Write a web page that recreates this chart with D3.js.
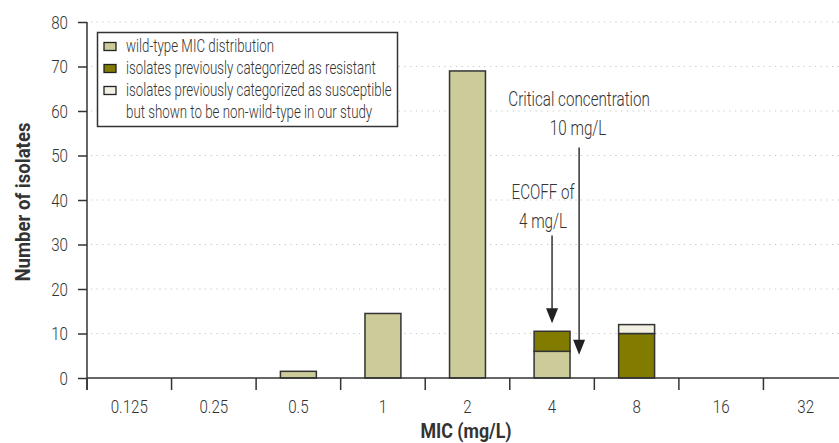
<!DOCTYPE html>
<html>
<head>
<meta charset="utf-8">
<script src="https://cdn.jsdelivr.net/npm/d3@7"></script>
<style>
  body { margin: 0; background: #fff; }
  svg text { font-family: Roboto, "Liberation Sans", sans-serif; fill: #333; }
</style>
</head>
<body>
<div id="chart"></div>
<script>
// MIC distribution data
const micLabels = ["0.125", "0.25", "0.5", "1", "2", "4", "8", "16", "32"];
const wildType = [0, 0, 1.5, 14.5, 69, 6, 0, 0, 0];
const resistant = [0, 0, 0, 0, 0, 4.5, 10, 0, 0];
const susceptibleNonWT = [0, 0, 0, 0, 0, 0, 2, 0, 0];
const yTicks = [0, 10, 20, 30, 40, 50, 60, 70, 80];

const seriesKeys = ["wt", "res", "sus"];
const seriesColors = { wt: "#cccb9a", res: "#817b00", sus: "#f1f0e2" };
const legendLabels = [
  ["wild-type MIC distribution"],
  ["isolates previously categorized as resistant"],
  ["isolates previously categorized as susceptible", "but shown to be non-wild-type in our study"]
];

const width = 839, height = 443;
const margin = { top: 22, right: -9, bottom: 65, left: 87 };
const squeeze = 0.76; // condensed look for words
const squeezeNum = 0.84; // and for numbers

const svg = d3.select("#chart").append("svg")
  .attr("width", width)
  .attr("height", height);

// text helper, squeezed horizontally to look like a condensed face
function label(parent, tx, ty, str, size, opts) {
  opts = opts || {};
  return parent.append("text")
    .attr("transform", `translate(${tx},${ty})${opts.rotate ? " rotate(" + opts.rotate + ")" : ""} scale(${opts.sx || squeeze},1)`)
    .attr("text-anchor", opts.anchor || "middle")
    .style("font-size", size + "px")
    .style("font-weight", opts.weight || 300)
    .text(str);
}

const x = d3.scaleBand()
  .domain(micLabels)
  .range([margin.left, width - margin.right])
  .paddingInner(0.575)
  .paddingOuter(0.2875);

const y = d3.scaleLinear()
  .domain([0, 80])
  .range([height - margin.bottom, margin.top]);

// gridlines
svg.append("g")
  .selectAll("line")
  .data(yTicks.filter(d => d > 0))
  .enter()
  .append("line")
  .attr("x1", margin.left + 4)
  .attr("x2", width)
  .attr("y1", d => y(d))
  .attr("y2", d => y(d))
  .style("stroke", "#c4c4c4")
  .style("stroke-width", 1)
  .style("stroke-dasharray", "1.2,4.5");

// stacked bars
const table = micLabels.map((m, i) => ({ mic: m, wt: wildType[i], res: resistant[i], sus: susceptibleNonWT[i] }));
const stacked = d3.stack().keys(seriesKeys)(table);

svg.append("g")
  .selectAll("g")
  .data(stacked)
  .enter()
  .append("g")
  .style("fill", d => seriesColors[d.key])
  .selectAll("rect")
  .data(d => d.filter(p => p[1] - p[0] > 0))
  .enter()
  .append("rect")
  .attr("x", d => x(d.data.mic))
  .attr("width", x.bandwidth())
  .attr("y", d => y(d[1]))
  .attr("height", d => y(d[0]) - y(d[1]))
  .style("stroke", "#333")
  .style("stroke-width", 1.5);

// y axis (labels drawn separately so they can be condensed)
const yAxis = svg.append("g")
  .attr("transform", `translate(${margin.left},0)`)
  .call(d3.axisLeft(y).tickValues(yTicks).tickSize(9).tickFormat(""));
yAxis.select(".domain").attr("d", `M0,${y(80)}V${y(0) + 12}`);
yAxis.selectAll("line, path").style("stroke", "#333").style("stroke-width", 1.5);
yTicks.forEach(t => label(svg, margin.left - 19, y(t) + 6.5, String(t), 18, { anchor: "end", sx: squeezeNum }));

// x axis: line + ticks between categories
const xg = svg.append("g");
xg.append("line")
  .attr("x1", margin.left)
  .attr("x2", width)
  .attr("y1", y(0))
  .attr("y2", y(0))
  .style("stroke", "#333")
  .style("stroke-width", 1.5);
xg.selectAll(".xtick")
  .data(micLabels)
  .enter()
  .append("line")
  .attr("class", "xtick")
  .attr("x1", d => x(d) - x.step() * x.paddingOuter())
  .attr("x2", d => x(d) - x.step() * x.paddingOuter())
  .attr("y1", y(0))
  .attr("y2", y(0) + 12)
  .style("stroke", "#333")
  .style("stroke-width", 1.5);
micLabels.forEach(m => label(xg, x(m) + x.bandwidth() / 2, y(0) + 35, m, 18, { sx: squeezeNum }));

// axis titles
label(svg, 466, 438, "MIC (mg/L)", 20, { weight: "bold", sx: 0.89 });
label(svg, 30, (y(0) + y(80)) / 2 + 2, "Number of isolates", 20, { weight: "bold", sx: 0.93, rotate: -90 });

// arrows and annotations
const ecoffX = x("4") + x.bandwidth() / 2;
const critX = ecoffX + x.step() * 0.32;

function arrow(xPos, y1, y2) {
  svg.append("line")
    .attr("x1", xPos).attr("x2", xPos)
    .attr("y1", y1).attr("y2", y2 - 6)
    .style("stroke", "#333")
    .style("stroke-width", 1.5);
  svg.append("path")
    .attr("d", `M${xPos - 6},${y2 - 15}L${xPos + 6},${y2 - 15}L${xPos},${y2}Z`)
    .style("fill", "#222");
}

arrow(ecoffX, y(32), y(12.3));
arrow(critX, y(51.8), y(5.2));

label(svg, critX, 106, "Critical concentration", 20);
label(svg, critX - 1, 135, "10 mg/L", 20);
label(svg, ecoffX - 9, 199, "ECOFF of", 20);
label(svg, ecoffX - 9, 228, "4 mg/L", 20);

// legend
const legend = svg.append("g");
legend.append("rect")
  .attr("x", 97.5)
  .attr("y", 32.5)
  .attr("width", 300)
  .attr("height", 94)
  .style("fill", "#fff")
  .style("stroke", "#333")
  .style("stroke-width", 1.5);

let rowY = 46;
legendLabels.forEach((lines, i) => {
  legend.append("rect")
    .attr("x", 104)
    .attr("y", rowY - 3.5)
    .attr("width", 12)
    .attr("height", 8)
    .style("fill", seriesColors[seriesKeys[i]])
    .style("stroke", "#222")
    .style("stroke-width", 1.3);
  lines.forEach(line => {
    label(legend, 126, rowY + 6, line, 18, { anchor: "start", sx: 0.74 });
    rowY += 22;
  });
});
</script>
</body>
</html>
